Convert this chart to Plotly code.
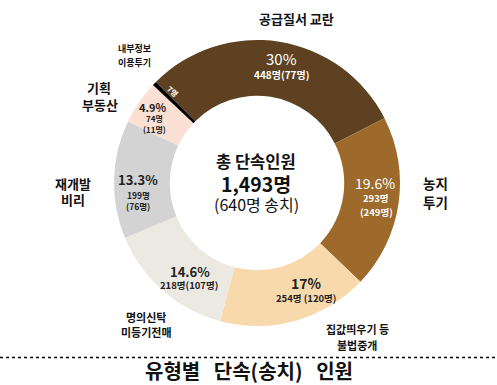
import plotly.graph_objects as go

W, H = 497, 385

categories = ["공급질서 교란", "농지 투기", "집값띄우기 등 불법중개", "명의신탁 미등기전매",
              "재개발 비리", "기획 부동산", "내부정보 이용투기"]
people = [448, 293, 254, 218, 199, 74, 7]
referred = [77, 249, 120, 107, 76, 11, None]
pct_labels = ["30%", "19.6%", "17%", "14.6%", "13.3%", "4.9%", ""]
total_referred = 640
colors = ["#5D4121", "#9D6A2B", "#F8D9AC", "#ECE9E2", "#D3D3D3", "#FCE0D3", "#000000"]

FONT = "Noto Sans CJK KR"

cx, cy, R = 257, 183, 143


def px(x):
    return x / W


def py(y):
    return 1 - y / H


fig = go.Figure()
fig.add_trace(go.Pie(
    labels=categories, values=people, sort=False, direction="clockwise",
    rotation=-45, hole=0.61, textinfo="none", hoverinfo="label+value",
    marker=dict(colors=colors, line=dict(width=0)),
    domain=dict(x=[px(cx - R), px(cx + R)], y=[py(cy + R), py(cy - R)]),
    showlegend=False,
))

ann = []


def add(text, x, y, size, color="#111111", bold=True, angle=0):
    ann.append(dict(text=text, x=px(x), y=py(y), xref="paper", yref="paper",
                    showarrow=False, textangle=angle,
                    font=dict(family=FONT, size=size, color=color,
                              weight="bold" if bold else "normal"),
                    xanchor="center", yanchor="middle"))


# outside category labels
add("공급질서 교란", 296, 18, 13)
add("내부정보", 134, 48, 9)
add("이용투기", 134, 62, 9)
add("기획", 99, 88, 13)
add("부동산", 100, 105, 13)
add("재개발", 73, 183, 13)
add("비리", 73, 200, 13)
add("명의신탁", 146, 317, 11)
add("미등기전매", 146, 332, 11)
add("집값띄우기 등", 357, 329, 11)
add("불법중개", 357, 345, 11)
add("농지", 435, 183, 13.5)
add("투기", 435, 202, 13.5)

# in-slice labels
WHITE = "#FFFFFF"
DARK = "#222222"
add(pct_labels[0], 281, 58, 15, WHITE, bold=False)
add(f"{people[0]}명({referred[0]}명)", 281, 74, 10, WHITE)
add(pct_labels[1], 375, 183, 14, WHITE, bold=False)
add(f"{people[1]}명", 376, 198, 9.5, WHITE)
add(f"({referred[1]}명)", 376, 212, 9.5, WHITE)
add(pct_labels[2], 306, 283, 14, DARK)
add(f"{people[2]}명 ({referred[2]}명)", 306, 298, 9.5, DARK)
add(pct_labels[3], 190, 271, 13, DARK)
add(f"{people[3]}명({referred[3]}명)", 189, 285, 9.5, DARK)
add(pct_labels[4], 138, 180, 13, DARK)
add(f"{people[4]}명", 138, 195, 8.5, DARK)
add(f"({referred[4]}명)", 138, 206, 8.5, DARK)
add(pct_labels[5], 153, 107, 11, DARK)
add(f"{people[5]}명", 154, 118, 8, DARK)
add(f"({referred[5]}명)", 154, 129, 8, DARK)
add(f"{people[6]}명", 172, 91, 7.5, WHITE, angle=40)

# centre text
add("총 단속인원", 256, 161, 16.5)
add(f"{sum(people):,}명", 256, 183, 19.5)
add(f"({total_referred}명 송치)", 256, 204, 16, bold=False)

# bottom title
add("유형별&nbsp;&nbsp;&nbsp;단속(송치)&nbsp;&nbsp;&nbsp;인원", 249, 370, 20)

fig.update_layout(
    width=W, height=H, margin=dict(l=0, r=0, t=0, b=0),
    paper_bgcolor="white", plot_bgcolor="white",
    annotations=ann,
    shapes=[dict(type="line", xref="paper", yref="paper", x0=0, x1=1,
                 y0=py(357.5), y1=py(357.5),
                 line=dict(color="#000000", width=1.5, dash="dot"))],
)

fig.write_html("out.html", config={"displayModeBar": False},
               post_script="document.body.style.margin='0';")
